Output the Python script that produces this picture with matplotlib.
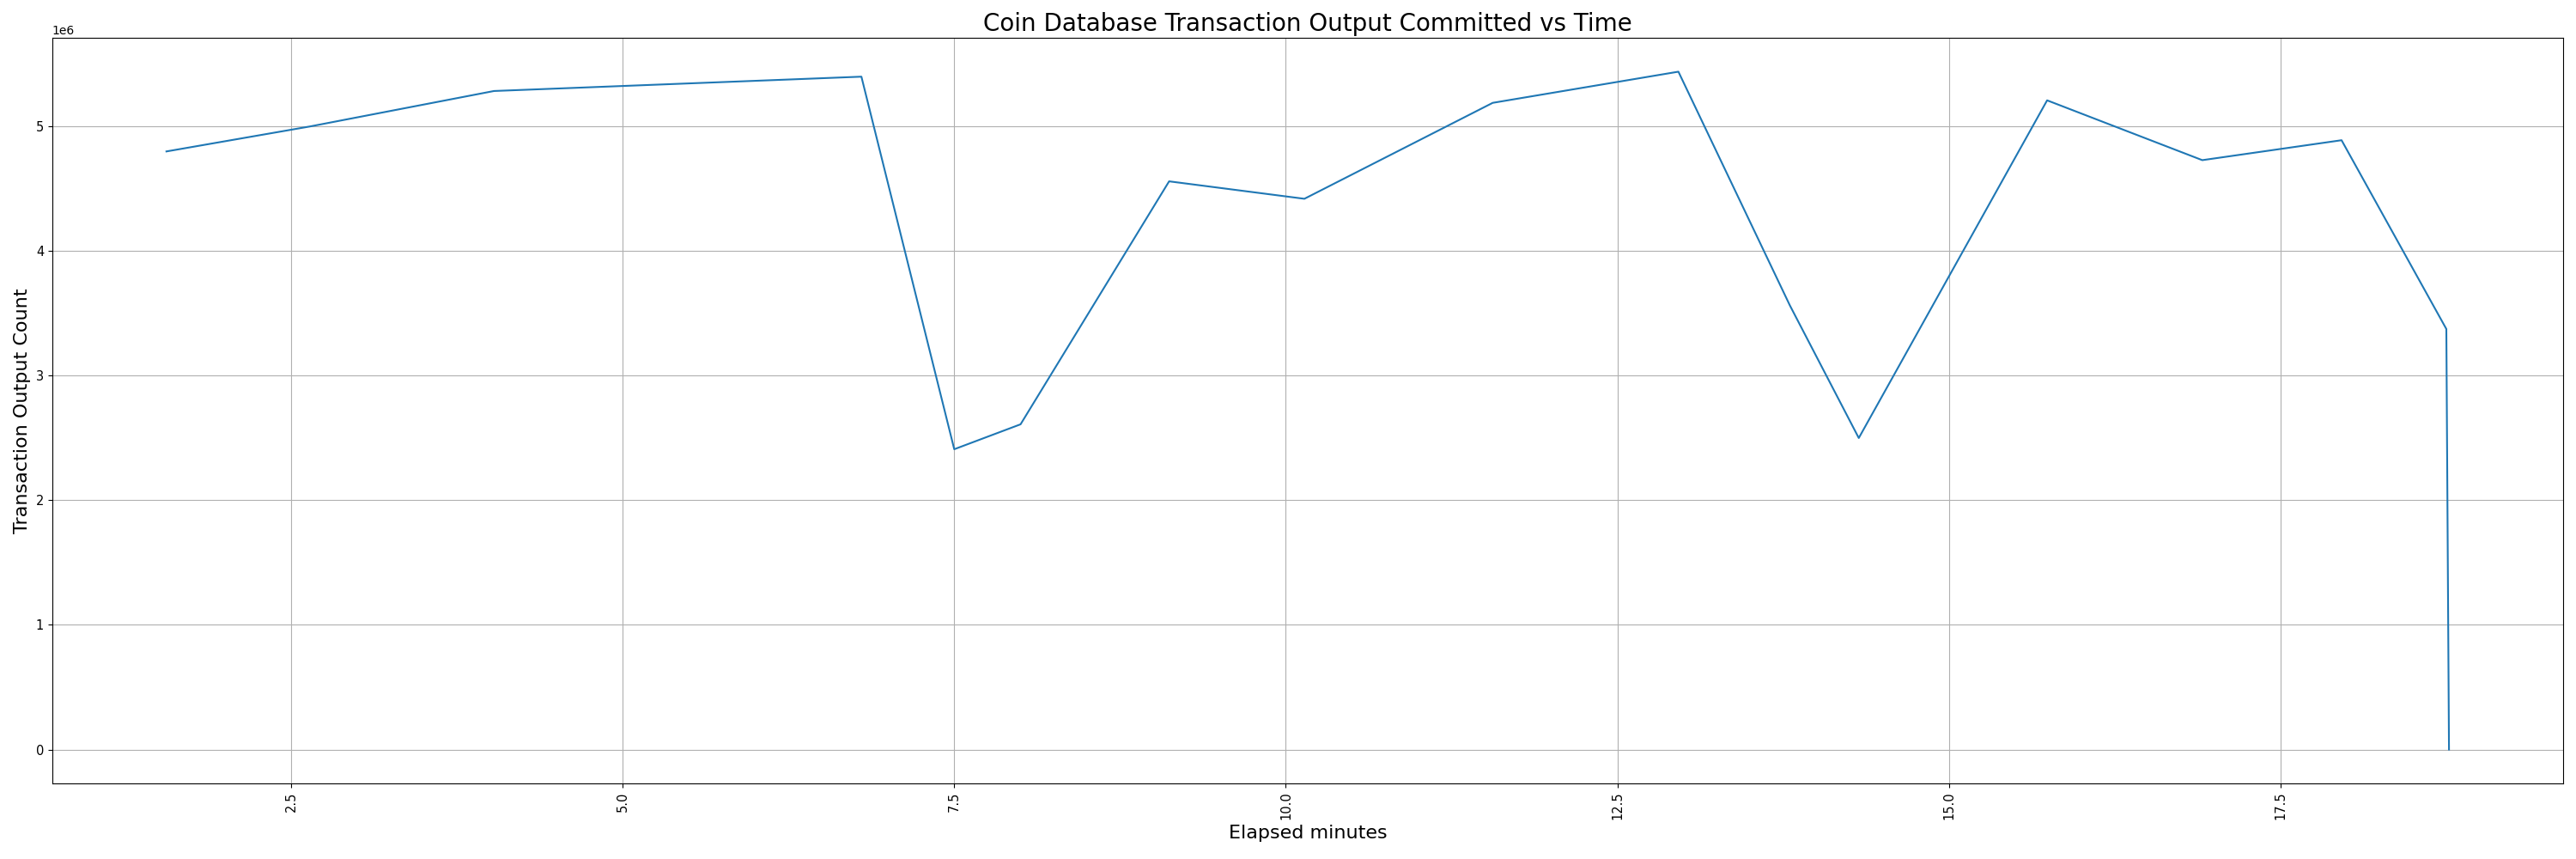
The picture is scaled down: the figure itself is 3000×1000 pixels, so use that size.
import matplotlib
matplotlib.use("Agg")
import matplotlib.pyplot as plt

# elapsed minutes and committed transaction outputs
minutes = [1.56, 2.64, 4.03, 6.80, 7.50, 8.00, 9.12, 10.14, 11.56, 12.96,
           13.80, 14.32, 15.74, 16.91, 17.96, 18.75, 18.77]
outputs = [4.80e6, 5.00e6, 5.285e6, 5.40e6, 2.41e6, 2.61e6, 4.56e6, 4.42e6,
           5.19e6, 5.44e6, 3.565e6, 2.50e6, 5.21e6, 4.73e6, 4.89e6, 3.375e6, 0]

fig = plt.figure(figsize=(30, 10), dpi=100)
ax = fig.add_subplot(111)
ax.plot(minutes, outputs)
ax.grid(True)
ax.set_title("Coin Database Transaction Output Committed vs Time", fontsize=20)
ax.set_xlabel("Elapsed minutes", fontsize=16)
ax.set_ylabel("Transaction Output Count", fontsize=16)
ax.tick_params(axis="both", labelsize=10.5)
plt.xticks(rotation=90)
fig.subplots_adjust(left=0.0203, right=0.995, top=0.956, bottom=0.088)
fig.savefig("out.png")
